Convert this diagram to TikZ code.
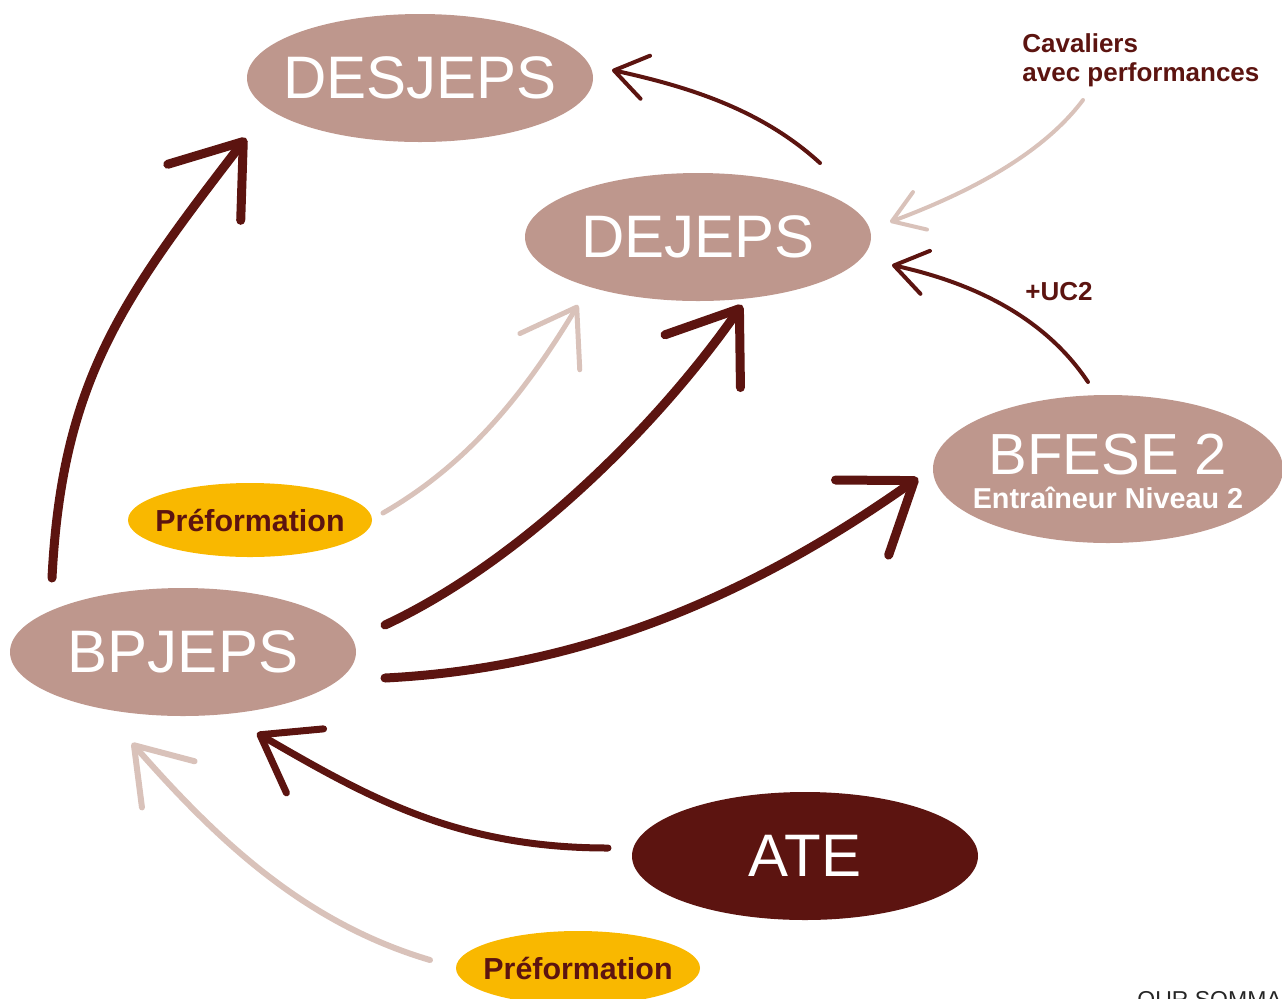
\documentclass[tikz,border=0pt]{standalone}
\usepackage{fontspec}
\setmainfont{Liberation Sans}
\usetikzlibrary{arrows.meta,shapes.geometric}

\definecolor{taupe}{HTML}{BE978D}
\definecolor{bordeaux}{HTML}{5C1410}
\definecolor{blush}{HTML}{D9C2BA}
\definecolor{gold}{HTML}{F9B800}

\begin{document}
\begin{tikzpicture}[
    x=0.5pt, y=-0.5pt,
    diploma/.style={ellipse, fill=taupe, text=white, inner sep=0pt, inner xsep=-20pt,
        minimum width=173pt, minimum height=64pt, font=\fontsize{30}{36}\selectfont},
    prep/.style={ellipse, fill=gold, text=bordeaux, inner sep=0pt, inner xsep=-12pt,
        minimum width=122pt, minimum height=37pt, font=\bfseries\fontsize{15.2}{18}\selectfont},
    note/.style={text=bordeaux, inner sep=0pt, font=\bfseries\fontsize{13}{14.5}\selectfont},
    line/.style={draw, line cap=round, line join=round},
    big/.style={line, bordeaux, line width=4.5pt, -{Straight Barb[length=32pt, width=46pt, round]}},
    mid/.style={line, bordeaux, line width=3.5pt, -{Straight Barb[length=26pt, width=37pt, round]}},
    thin/.style={line, bordeaux, line width=2pt, -{Straight Barb[length=16pt, width=22pt, round]}},
    pale/.style={line, blush, line width=3pt, -{Straight Barb[length=26pt, width=35pt, round]}},
    pale thin/.style={line, blush, line width=2pt, -{Straight Barb[length=15pt, width=20pt, round]}}
]
    \useasboundingbox (0,0) rectangle (1282,998);

    % Diplomas
    \node [diploma] (desj) at (420,78) {DESJEPS};
    \node [diploma] (dej) at (698,237) {DEJEPS};
    \node [diploma, minimum width=175pt, minimum height=74pt] (bfese) at (1108,469) {};
    \node [text=white, inner sep=0pt, align=center, font=\fontsize{29}{36}\selectfont] (bfese text) at (1108,471)
        {BFESE 2\\[-19pt]{\bfseries\fontsize{14.4}{15}\selectfont Entraîneur Niveau 2}};
    \node [diploma] (bp) at (183,652) {BPJEPS};
    \node [diploma, fill=bordeaux] (ate) at (805,856) {ATE};

    % Preparation
    \node [prep] (prep top) at (250,520) {Préformation};
    \node [prep] (prep bottom) at (578,968) {Préformation};

    % Labels
    \node [note, anchor=north west, align=left] (riders) at (1022,33) {Cavaliers\\avec performances};
    \node [note, anchor=base west] (uc) at (1025,300) {+UC2};
    \node [anchor=north west, inner sep=0pt, text=black!85, font=\fontsize{11.5}{14}\selectfont] (back) at (1137,991) {OUR SOMMAIRE};

    % Arrow ends
    \coordinate (bp top) at (52,578);
    \coordinate (desj in) at (246,138);
    \coordinate (bp right) at (385,625);
    \coordinate (dej in) at (742,305);
    \coordinate (bp low) at (385,678);
    \coordinate (bfese in) at (918,478);
    \coordinate (ate left) at (608,848);
    \coordinate (bp in) at (257,733);
    \coordinate (prep bottom out) at (430,960);
    \coordinate (bp in pale) at (132,743);
    \coordinate (prep top out) at (383,513);
    \coordinate (dej in pale) at (578,305);
    \coordinate (dej top) at (820,163);
    \coordinate (desj in right) at (612,70);
    \coordinate (bfese top) at (1088,382);
    \coordinate (dej in right) at (892,265);
    \coordinate (riders out) at (1083,100);
    \coordinate (dej in riders) at (890,222);

    % Draw edges
    \path [big] (bp top) .. controls (62,380) and (123,298) .. (desj in);
    \path [big] (bp right) .. controls (520,562) and (656,428) .. (dej in);
    \path [big] (bp low) .. controls (585,668) and (754,594) .. (bfese in);
    \path [mid] (ate left) .. controls (458,848) and (369,798) .. (bp in);
    \path [pale] (prep bottom out) .. controls (305,923) and (218,841) .. (bp in pale);
    \path [pale, line width=2.5pt] (prep top out) .. controls (470,463) and (526,391) .. (dej in pale);
    \path [thin] (dej top) .. controls (762,110) and (690,87) .. (desj in right);
    \path [thin] (bfese top) .. controls (1040,310) and (960,280) .. (dej in right);
    \path [pale thin] (riders out) .. controls (1041,156) and (965,194) .. (dej in riders);
\end{tikzpicture}
\end{document}
